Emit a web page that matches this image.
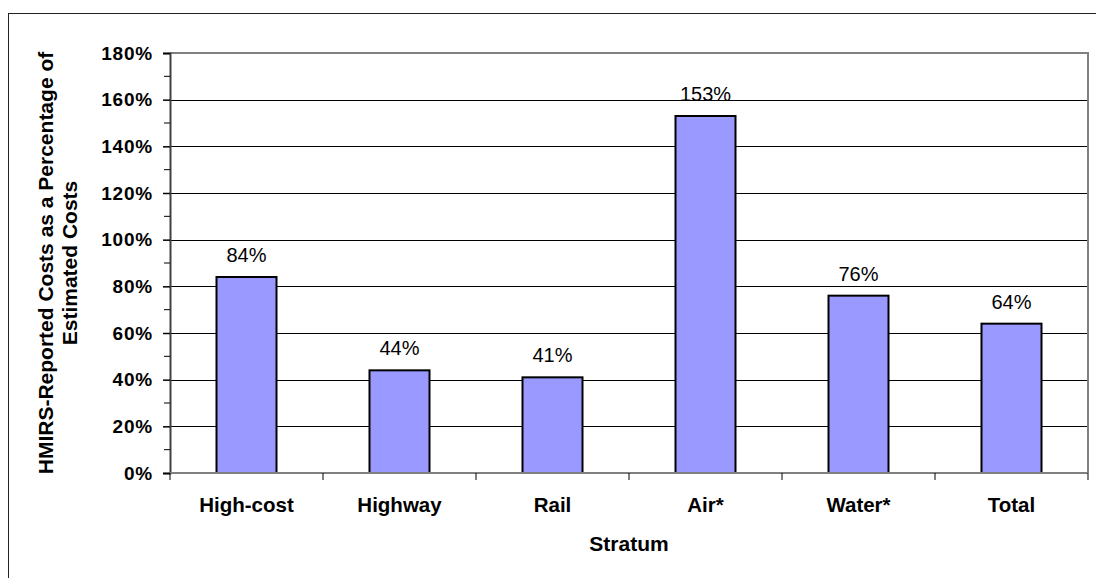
<!DOCTYPE html>
<html>
<head>
<meta charset="utf-8">
<script src="https://cdn.jsdelivr.net/npm/d3@7"></script>
<style>
  body { margin: 0; background: #fff; }
  svg text { font-family: Arial, "Liberation Sans", sans-serif; }
</style>
</head>
<body>
<div id="chart"></div>
<script>
// chart data
const categories = ["High-cost", "Highway", "Rail", "Air*", "Water*", "Total"];
const values = [84, 44, 41, 153, 76, 64];
const yTicks = [0, 20, 40, 60, 80, 100, 120, 140, 160, 180];

const width = 1096;
const height = 578;
const margin = { top: 53, right: 8, bottom: 105, left: 170 };

const svg = d3
  .select("#chart")
  .append("svg")
  .attr("width", width)
  .attr("height", height);

// outer chart frame (runs off the right/bottom edge)
svg
  .append("rect")
  .attr("x", 8.5)
  .attr("y", 13.5)
  .attr("width", width + 20)
  .attr("height", height + 20)
  .attr("fill", "none")
  .attr("stroke", "#222")
  .attr("stroke-width", 1);

const x = d3
  .scaleBand()
  .domain(categories)
  .range([margin.left, width - margin.right])
  .paddingInner(0)
  .paddingOuter(0);

const y = d3
  .scaleLinear()
  .domain([0, 180])
  .range([height - margin.bottom, margin.top]);

const plotLeft = margin.left;
const plotRight = width - margin.right;
const plotBottom = height - margin.bottom;

// gridlines
svg
  .append("g")
  .selectAll("line")
  .data(yTicks.filter((d) => d > 0 && d < 180))
  .enter()
  .append("line")
  .attr("x1", plotLeft)
  .attr("x2", plotRight)
  .attr("y1", (d) => Math.round(y(d)) + 0.5)
  .attr("y2", (d) => Math.round(y(d)) + 0.5)
  .attr("stroke", "#000")
  .attr("stroke-width", 1);

// top and right plot border (gray)
svg
  .append("path")
  .attr("d", `M${plotLeft},${y(180)}H${plotRight}V${plotBottom}`)
  .attr("fill", "none")
  .attr("stroke", "#808080")
  .attr("stroke-width", 2);

// bars
const barWidth = 60;
svg
  .append("g")
  .selectAll("rect")
  .data(values)
  .enter()
  .append("rect")
  .attr("x", (d, i) => x(categories[i]) + x.bandwidth() / 2 - barWidth / 2)
  .attr("y", (d) => y(d))
  .attr("width", barWidth)
  .attr("height", (d) => y(0) - y(d))
  .attr("fill", "#9999FF")
  .attr("stroke", "#000")
  .attr("stroke-width", 2);

// value labels
svg
  .append("g")
  .selectAll("text")
  .data(values)
  .enter()
  .append("text")
  .attr("x", (d, i) => x(categories[i]) + x.bandwidth() / 2)
  .attr("y", (d) => y(d) - 15)
  .attr("text-anchor", "middle")
  .attr("font-size", 20)
  .text((d) => d + "%");

// y axis
const yAxis = d3
  .axisLeft(y)
  .tickValues(yTicks)
  .tickSize(7)
  .tickPadding(10)
  .tickFormat((d) => d + "%");

const yAxisG = svg
  .append("g")
  .attr("transform", `translate(${plotLeft}, 0)`)
  .call(yAxis);

yAxisG.select(".domain").attr("stroke", "#404040").attr("stroke-width", 2);
yAxisG.selectAll(".tick line").attr("stroke", "#000").attr("stroke-width", 1.5);
yAxisG
  .selectAll(".tick text")
  .attr("font-size", 19)
  .attr("letter-spacing", 0.8)
  .attr("font-weight", "bold")
  .attr("font-family", "Arial, 'Liberation Sans', sans-serif")
  .attr("fill", "#000");

// minor ticks
svg
  .append("g")
  .selectAll("line")
  .data(d3.range(10, 180, 20))
  .enter()
  .append("line")
  .attr("x1", plotLeft - 6)
  .attr("x2", plotLeft)
  .attr("y1", (d) => y(d))
  .attr("y2", (d) => y(d))
  .attr("stroke", "#000")
  .attr("stroke-width", 1);

// x axis line and category boundary ticks
svg
  .append("line")
  .attr("x1", plotLeft)
  .attr("x2", plotRight)
  .attr("y1", plotBottom)
  .attr("y2", plotBottom)
  .attr("stroke", "#808080")
  .attr("stroke-width", 2);

svg
  .append("g")
  .selectAll("line")
  .data(categories.map((c) => x(c)).concat([plotRight]))
  .enter()
  .append("line")
  .attr("x1", (d) => d)
  .attr("x2", (d) => d)
  .attr("y1", plotBottom)
  .attr("y2", plotBottom + 7)
  .attr("stroke", "#000")
  .attr("stroke-width", 1);

// category labels
svg
  .append("g")
  .selectAll("text")
  .data(categories)
  .enter()
  .append("text")
  .attr("x", (d) => x(d) + x.bandwidth() / 2)
  .attr("y", plotBottom + 39)
  .attr("text-anchor", "middle")
  .attr("font-size", 20.5)
  .attr("font-weight", "bold")
  .text((d) => d);

// x axis title
svg
  .append("text")
  .attr("x", (plotLeft + plotRight) / 2)
  .attr("y", plotBottom + 78)
  .attr("text-anchor", "middle")
  .attr("font-size", 21)
  .attr("font-weight", "bold")
  .text("Stratum");

// y axis title (two lines)
const yMid = (y(0) + y(180)) / 2;
const yTitle = svg
  .append("text")
  .attr("transform", `translate(53, ${yMid}) rotate(-90)`)
  .attr("text-anchor", "middle")
  .attr("font-size", 21)
  .attr("font-weight", "bold");

yTitle.append("tspan").attr("x", 0).attr("dy", 0).text("HMIRS-Reported Costs as a Percentage of");
yTitle.append("tspan").attr("x", 0).attr("dy", 24).text("Estimated Costs");
</script>
</body>
</html>
